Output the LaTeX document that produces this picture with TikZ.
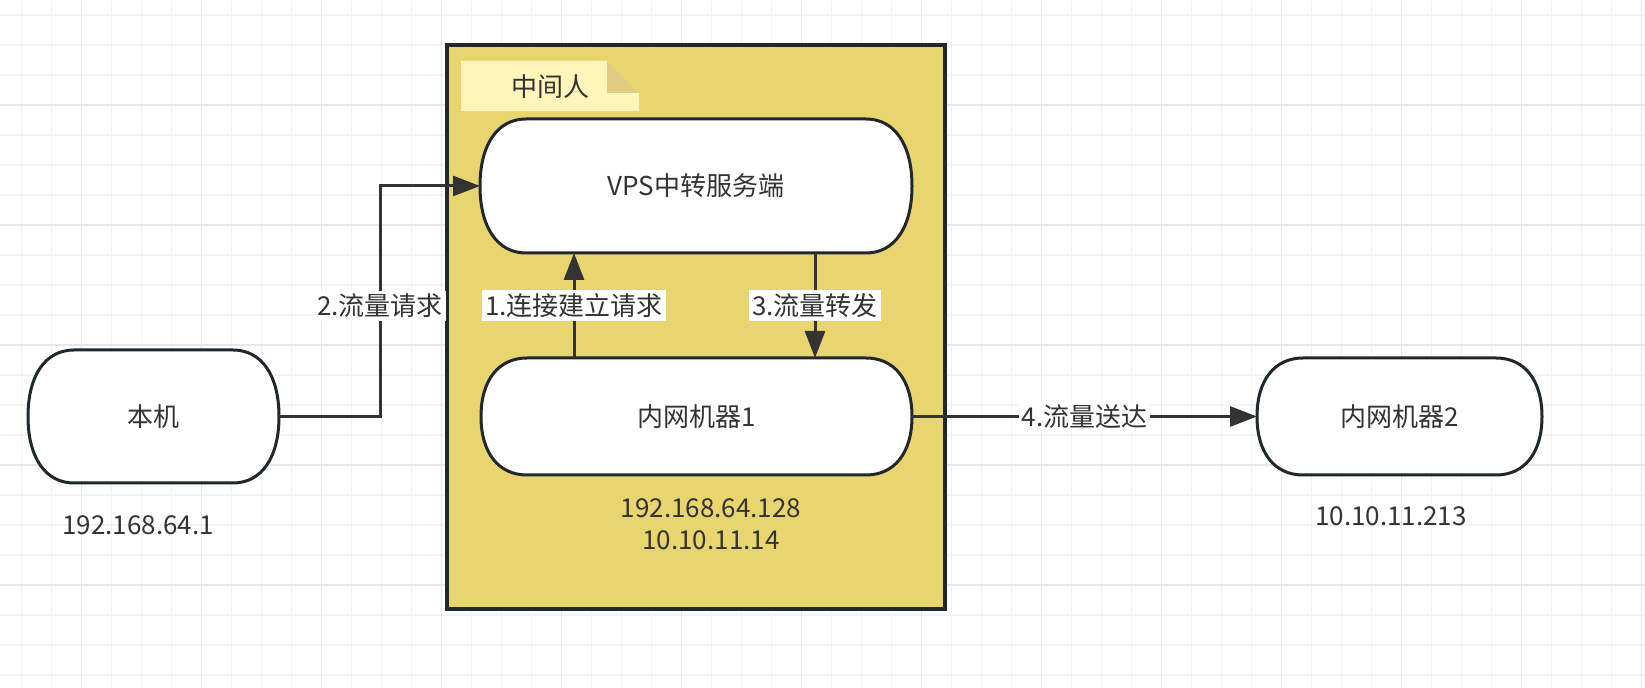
\documentclass[tikz,border=0pt]{standalone}
\usepackage{fontspec}
\setmainfont{Noto Sans CJK SC}
\usetikzlibrary{calc,backgrounds,arrows.meta}
\definecolor{ink}{RGB}{51,51,51}
\definecolor{edge}{RGB}{33,39,45}
\definecolor{mitmfill}{RGB}{232,213,112}
\definecolor{notefill}{RGB}{255,244,186}
\definecolor{notefold}{RGB}{224,204,128}
\definecolor{gridlo}{RGB}{243,243,243}
\definecolor{gridhi}{RGB}{231,231,231}
\tikzstyle{pill}=[draw=none,text=ink,font=\fontsize{13}{16}\selectfont,outer sep=0pt,inner sep=0pt]
\tikzstyle{pillline}=[draw=edge,fill=white,line width=1.5pt]
\tikzstyle{flow}=[draw=ink,line width=1.5pt,-{Triangle[length=13.5pt,width=10pt]}]
\tikzstyle{lbl}=[fill=white,text=ink,font=\fontsize{13}{16}\selectfont,inner sep=1.5pt]
\tikzstyle{ip}=[text=ink,font=\fontsize{13}{16}\selectfont,align=center]

% outline of a terminal node, #2 = width of the rounded end
\newcommand\pillpath[2]{\draw[pillline] (#1.west)
 .. controls ($(#1.west)!.62!(#1.north west)$) and ($(#1.north west)+(.38*#2,0)$) .. ($(#1.north west)+(#2,0)$)
 -- ($(#1.north east)+(-#2,0)$)
 .. controls ($(#1.north east)+(-.38*#2,0)$) and ($(#1.east)!.62!(#1.north east)$) .. (#1.east)
 .. controls ($(#1.east)!.62!(#1.south east)$) and ($(#1.south east)+(-.38*#2,0)$) .. ($(#1.south east)+(-#2,0)$)
 -- ($(#1.south west)+(#2,0)$)
 .. controls ($(#1.south west)+(.38*#2,0)$) and ($(#1.west)!.62!(#1.south west)$) .. (#1.west) -- cycle;}

\begin{document}
\begin{tikzpicture}[x=0.5pt,y=-0.5pt]
\useasboundingbox (0,0) rectangle (1645,688);
% note on the middle box
\fill[notefill] (461,61) -- (607,61) -- (639,93) -- (639,111) -- (461,111) -- cycle;
\fill[notefold] (607,61) -- (607,93) -- (639,93) -- cycle;
\node[pill] (note) at (550,87) {中间人};
% hosts
\node[pill,minimum width=216pt,minimum height=67pt] (vps) at (696,186) {VPS中转服务端};
\node[pill,minimum width=215.5pt,minimum height=58.5pt] (m1) at (696.5,416.5) {内网机器1};
\node[pill,minimum width=125.5pt,minimum height=66.5pt] (local) at (153.5,416.5) {本机};
\node[pill,minimum width=142.5pt,minimum height=58.5pt] (m2) at (1399.5,416.5) {内网机器2};
\node[ip] (ip1) at (138,525) {192.168.64.1};
\node[ip] (ip2) at (711,524) {192.168.64.128\\10.10.11.14};
\node[ip] (ip3) at (1391,516) {10.10.11.213};
% traffic
\coordinate (up) at (574,0);
\coordinate (down) at (815,0);
\draw[flow] (local.east) -- ++(101,0) |- (vps.west) node[lbl,pos=.24]{2.流量请求};
\draw[flow] (m1.north -| up) -- (vps.south -| up) node[lbl,midway]{1.连接建立请求};
\draw[flow] (vps.south -| down) -- (m1.north -| down) node[lbl,midway]{3.流量转发};
\draw[flow] (m1.east) -- (m2.west) node[lbl,midway]{4.流量送达};
\begin{scope}[on background layer]
\fill[white] (0,0) rectangle (1645,688);
\foreach \i in {0,...,54} \draw[gridlo,line width=.75pt] (21.7+30*\i,0) -- ++(0,688);
\foreach \i in {0,...,22} \draw[gridlo,line width=.75pt] (0,15+30*\i) -- ++(1645,0);
\foreach \i in {0,...,13} \draw[gridhi,line width=.75pt] (81.7+120*\i,0) -- ++(0,688);
\foreach \i in {0,...,4} \draw[gridhi,line width=.75pt] (0,105+120*\i) -- ++(1645,0);
\draw[draw=edge,fill=mitmfill,line width=2pt] (446.5,45) rectangle (945,609);
\foreach \n in {vps,m1,local,m2} \pillpath{\n}{46};
\end{scope}
\end{tikzpicture}
\end{document}
